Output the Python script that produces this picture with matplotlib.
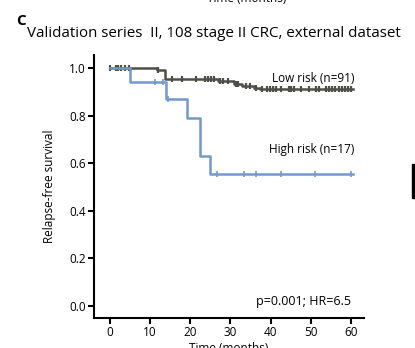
import numpy as np
import matplotlib.pyplot as plt
from matplotlib.patches import Rectangle

plt.rcParams['font.family'] = ['Open Sans', 'DejaVu Sans']

# Kaplan-Meier step data (time in months, survival)
low_t = [0, 11.8, 13.8, 27, 31, 33, 36, 37.5, 60.5]
low_s = [1.0, 0.99, 0.955, 0.945, 0.935, 0.925, 0.915, 0.91, 0.91]
low_cens = [0, 1.5, 2, 2.75, 3.75, 4.75, 12, 15.5, 18, 21.5, 23.75, 24.5, 25.25, 26,
            27.5, 28.25, 29.5, 31.5, 32, 34, 35, 36.5, 38, 39, 39.75, 40.5, 41.25,
            42.5, 44.5, 45, 45.75, 47.5, 49.5, 51.25, 52, 53.75, 54.5, 55.25, 56,
            57, 57.75, 58.5, 59.25, 60]
high_t = [0, 5, 14, 19.3, 22.3, 25, 60.5]
high_s = [1.0, 0.941, 0.868, 0.79, 0.63, 0.555, 0.555]
high_cens = [11.3, 13.3, 14.5, 26.7, 33.5, 36.5, 42.7, 51, 60]

low_col = '#4f4f47'
high_col = '#7398cc'


def step_at(t, s, c):
    idx = np.searchsorted(t, c, side='right') - 1
    return np.array(s)[idx]


fig = plt.figure(figsize=(4.15, 3.48), dpi=100)
ax = fig.add_axes([0.2265, 0.0862, 0.6506, 0.7558])

ax.plot(low_t, low_s, drawstyle='steps-post', color=low_col, lw=1.8)
ax.plot(low_cens, step_at(low_t, low_s, low_cens), ls='none', marker='|',
        color=low_col, ms=5, mew=1.6)
ax.plot(high_t, high_s, drawstyle='steps-post', color=high_col, lw=1.8)
ax.plot(high_cens, step_at(high_t, high_s, high_cens), ls='none', marker='|',
        color=high_col, ms=5, mew=1.2)

ax.set_xlim(-4, 63.3)
ax.set_ylim(-0.05, 1.055)
ax.set_xticks([0, 10, 20, 30, 40, 50, 60])
ax.set_yticks([0.0, 0.2, 0.4, 0.6, 0.8, 1.0])
ax.set_yticklabels(['0.0', '0.2', '0.4', '0.6', '0.8', '1.0'])
for sp in ['top', 'right']:
    ax.spines[sp].set_visible(False)
for sp in ['left', 'bottom']:
    ax.spines[sp].set_linewidth(1.5)
ax.tick_params(direction='out', length=4, width=1.5, labelsize=8.5, pad=2)
ax.set_xlabel('Time (months)', fontsize=8.5, labelpad=2)
ax.set_ylabel('Relapse-free survival', fontsize=8.5, labelpad=9)

ax.text(61, 0.958, 'Low risk (n=91)', ha='right', va='center', fontsize=8.5)
ax.text(61, 0.66, 'High risk (n=17)', ha='right', va='center', fontsize=8.5)
ax.text(60, 0.02, 'p=0.001; HR=6.5', ha='right', va='center', fontsize=9)

fig.text(0.04, 0.94, 'C', fontsize=11, fontweight='bold', ha='left', va='center')
fig.text(0.065, 0.903, 'Validation series  II, 108 stage II CRC, external dataset',
         fontsize=10.9, ha='left', va='center')
fig.text(0.595, 1.005, 'Time (months)', fontsize=8.5, ha='center', va='center')
fig.patches.append(Rectangle((0.993, 0.43), 0.01, 0.1, transform=fig.transFigure,
                             color='black'))

fig.savefig('out.png', dpi=100)
